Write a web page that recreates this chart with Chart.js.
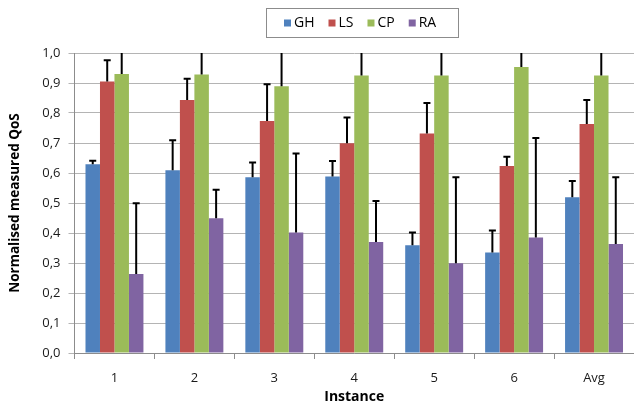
<!DOCTYPE html>
<html>
<head>
<meta charset="utf-8">
<script src="https://cdn.jsdelivr.net/npm/chart.js@4.4.1/dist/chart.umd.min.js"></script>
<style>
  html, body { margin: 0; padding: 0; background: #ffffff; }
  #wrap { width: 634px; height: 405px; position: relative; }
</style>
</head>
<body>
<div id="wrap"><canvas id="chart"></canvas></div>
<script>
  "use strict";

  const CATEGORIES = ["1", "2", "3", "4", "5", "6", "Avg"];
  const SERIES_NAMES = ["GH", "LS", "CP", "RA"];
  const COLORS = ["#4F81BD", "#C0504D", "#9BBB59", "#8064A2"];

  const GH = [0.629, 0.609, 0.586, 0.588, 0.359, 0.335, 0.519];
  const LS = [0.905, 0.843, 0.773, 0.699, 0.732, 0.623, 0.763];
  const CP = [0.930, 0.928, 0.889, 0.925, 0.925, 0.953, 0.925];
  const RA = [0.263, 0.449, 0.402, 0.370, 0.299, 0.385, 0.363];

  // upper error (only the + side is drawn in the original)
  const GH_ERR = [0.012, 0.100, 0.049, 0.052, 0.043, 0.073, 0.054];
  const LS_ERR = [0.071, 0.071, 0.123, 0.086, 0.101, 0.031, 0.080];
  const CP_ERR = [0.080, 0.080, 0.120, 0.080, 0.080, 0.050, 0.080];
  const RA_ERR = [0.236, 0.095, 0.263, 0.137, 0.287, 0.332, 0.223];

  const VALUES = [GH, LS, CP, RA];
  const ERRORS = [GH_ERR, LS_ERR, CP_ERR, RA_ERR];

  const FONT = "'Open Sans', 'DejaVu Sans', sans-serif";

  const errorBars = {
    id: "errorBars",
    afterDatasetsDraw(chart) {
      const { ctx, chartArea, scales } = chart;
      ctx.save();
      ctx.beginPath();
      ctx.rect(chartArea.left, chartArea.top, chartArea.right - chartArea.left, chartArea.bottom - chartArea.top);
      ctx.clip();
      ctx.strokeStyle = "#000000";
      ctx.lineWidth = 2;
      chart.data.datasets.forEach((ds, i) => {
        const meta = chart.getDatasetMeta(i);
        meta.data.forEach((bar, j) => {
          const top = scales.y.getPixelForValue(ds.data[j] + ds.errors[j]);
          ctx.beginPath();
          ctx.moveTo(bar.x, bar.y);
          ctx.lineTo(bar.x, top);
          ctx.moveTo(bar.x - 3.5, top);
          ctx.lineTo(bar.x + 3.5, top);
          ctx.stroke();
        });
      });
      ctx.restore();
    }
  };

  // boxed legend like the spreadsheet original
  const boxLegend = {
    id: "boxLegend",
    afterDraw(chart) {
      const { ctx } = chart;
      const left = 266, top = 8, width = 192, height = 29;
      ctx.save();
      ctx.strokeStyle = "#8c8c8c";
      ctx.lineWidth = 1;
      ctx.strokeRect(left + 0.5, top + 0.5, width, height);
      ctx.font = "14px " + FONT;
      ctx.textBaseline = "middle";
      let x = left + 18;
      const cy = top + height / 2 + 0.5;
      chart.data.datasets.forEach((ds) => {
        ctx.fillStyle = ds.backgroundColor;
        ctx.fillRect(x, cy - 3.5, 7, 7);
        ctx.fillStyle = "#000000";
        ctx.fillText(ds.label, x + 10, cy);
        x += 10 + ctx.measureText(ds.label).width + 14;
      });
      ctx.restore();
    }
  };

  new Chart(document.getElementById("chart"), {
    type: "bar",
    data: {
      labels: CATEGORIES,
      datasets: SERIES_NAMES.map((name, i) => ({
        label: name,
        data: VALUES[i],
        errors: ERRORS[i],
        backgroundColor: COLORS[i],
        borderWidth: 0,
        categoryPercentage: 0.725,
        barPercentage: 1.0
      }))
    },
    options: {
      responsive: true,
      maintainAspectRatio: false,
      animation: false,
      layout: { padding: { top: 53, right: 0, left: 0, bottom: 0 } },
      plugins: {
        legend: { display: false },
        tooltip: { enabled: false }
      },
      scales: {
        x: {
          afterFit: (scale) => { scale.height = 52; },
          grid: {
            offset: true,
            drawOnChartArea: false,
            drawTicks: true,
            tickLength: 6,
            color: "#8c8c8c"
          },
          border: { color: "#8c8c8c" },
          ticks: { color: "#1a1a1a", font: { family: FONT, size: 13 }, padding: 11 },
          title: {
            display: true,
            text: "Instance",
            color: "#000000",
            font: { family: FONT, size: 14, weight: "bold" },
            padding: { top: 0, bottom: 0 }
          }
        },
        y: {
          min: 0,
          max: 1,
          afterFit: (scale) => { scale.width = 74.5; },
          ticks: {
            stepSize: 0.1,
            color: "#1a1a1a",
            font: { family: FONT, size: 13 },
            padding: 8,
            callback: (v) => v.toFixed(1).replace(".", ",")
          },
          grid: { color: "#b4b4b4", tickLength: 6 },
          border: { color: "#8c8c8c" },
          title: {
            display: true,
            text: "Normalised measured QoS",
            color: "#000000",
            font: { family: FONT, size: 13.5, weight: "bold" },
            padding: { top: 7.5, bottom: 0 }
          }
        }
      }
    },
    plugins: [errorBars, boxLegend]
  });
</script>
</body>
</html>
